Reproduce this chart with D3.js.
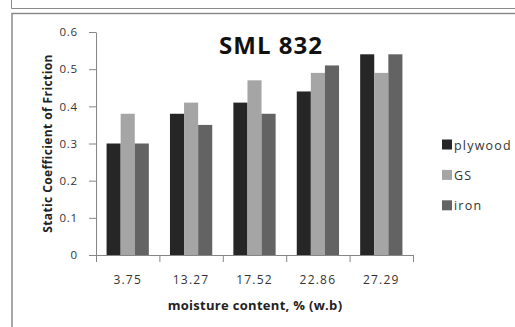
<!DOCTYPE html>
<html>
<head>
<meta charset="utf-8">
<script src="https://cdn.jsdelivr.net/npm/d3@7"></script>
<style>
  html, body { margin: 0; padding: 0; background: #fff; }
  svg { display: block; }
  text { font-family: "Open Sans", sans-serif; }
</style>
</head>
<body>
<svg id="chart" width="515" height="327"></svg>
<script>
const categories = ["3.75", "13.27", "17.52", "22.86", "27.29"];
const seriesNames = ["plywood", "GS", "iron"];
const plywood = [0.30, 0.38, 0.41, 0.44, 0.54];
const gs = [0.38, 0.41, 0.47, 0.49, 0.49];
const iron = [0.30, 0.35, 0.38, 0.51, 0.54];
const yTicks = [0, 0.1, 0.2, 0.3, 0.4, 0.5, 0.6];

const colors = ["#262626", "#a5a5a5", "#636363"];
const series = [plywood, gs, iron];

const svg = d3.select("#chart");
const axisColor = "#868686";

// Frame lines (bottom of panel above + chart box).
svg.append("path")
  .attr("d", "M11.5,0V8.5H515")
  .attr("fill", "none").attr("stroke", "#8a8a8a");
svg.append("path")
  .attr("d", "M12,327V13.5H515")
  .attr("fill", "none").attr("stroke", "#8a8a8a").attr("stroke-width", 1.5);

const plot = {left: 96, right: 413, top: 32, bottom: 255};

// Excel-style: 3 bars per category, gap 150% of a bar
const xBand = d3.scaleBand().domain(categories).range([plot.left, plot.right]);
const groupW = xBand.bandwidth() * 3 / 4.5;
const x1 = d3.scaleBand().domain(seriesNames).range([0, groupW]);

const y = d3.scaleLinear().domain([0, 0.6]).range([plot.bottom, plot.top]);

// Bars
categories.forEach((c, i) => {
  const gx = xBand(c) + (xBand.bandwidth() - groupW) / 2;
  seriesNames.forEach((s, j) => {
    svg.append("rect")
      .attr("x", gx + x1(s))
      .attr("y", y(series[j][i]))
      .attr("width", x1.bandwidth())
      .attr("height", y(0) - y(series[j][i]))
      .attr("fill", colors[j]);
  });
});

// Y axis
const yAxis = d3.axisLeft(y)
  .tickValues(yTicks)
  .tickFormat((d) => d === 0 ? "0" : d3.format(".1f")(d))
  .tickSizeInner(7)
  .tickSizeOuter(0)
  .tickPadding(11);
const gY = svg.append("g")
  .attr("transform", `translate(${plot.left},0)`)
  .call(yAxis);
gY.select(".domain").attr("stroke", axisColor);
gY.selectAll(".tick line").attr("stroke", axisColor);
gY.selectAll(".tick text")
  .attr("fill", "#333")
  .style("font-size", "11.5px")
  .style("letter-spacing", "0.8px");

// X axis (ticks at category boundaries)
svg.append("line")
  .attr("x1", plot.left).attr("x2", plot.right)
  .attr("y1", plot.bottom + 0.5).attr("y2", plot.bottom + 0.5)
  .attr("stroke", axisColor);
const boundaries = categories.map((c) => xBand(c)).concat(plot.right);
svg.selectAll(".xtick").data(boundaries).join("line")
  .attr("x1", (d) => d + 0.5).attr("x2", (d) => d + 0.5)
  .attr("y1", plot.bottom).attr("y2", plot.bottom + 7)
  .attr("stroke", axisColor);
svg.selectAll(".xlabel").data(categories).join("text")
  .attr("x", (d) => xBand(d) + xBand.bandwidth() / 2)
  .attr("y", 284)
  .attr("text-anchor", "middle")
  .attr("fill", "#333")
  .style("font-size", "12px")
  .style("letter-spacing", "1.2px")
  .text((d) => d);

// Axis titles
svg.append("text")
  .attr("x", 255)
  .attr("y", 310)
  .attr("text-anchor", "middle")
  .attr("fill", "#222")
  .style("font-size", "13px")
  .style("font-weight", "bold")
  .style("letter-spacing", "0.3px")
  .text("moisture content, % (w.b)");
svg.append("text")
  .attr("transform", `translate(52,${(plot.top + plot.bottom) / 2}) rotate(-90)`)
  .attr("text-anchor", "middle")
  .attr("fill", "#222")
  .style("font-size", "12px")
  .style("font-weight", "bold")
  .style("letter-spacing", "0.4px")
  .text("Static Coefficient of Friction");

// Title
svg.append("text")
  .attr("x", 271)
  .attr("y", 54)
  .attr("text-anchor", "middle")
  .attr("fill", "#111")
  .style("font-size", "24px")
  .style("font-weight", "bold")
  .style("letter-spacing", "1px")
  .text("SML 832");

// Legend
const legend = svg.append("g").attr("transform", "translate(442,139.5)");
seriesNames.forEach((s, j) => {
  const g = legend.append("g").attr("transform", `translate(0,${j * 30.4})`);
  g.append("rect").attr("width", 10).attr("height", 10).attr("fill", colors[j]);
  g.append("text")
    .attr("x", 12)
    .attr("y", 10)
    .attr("fill", "#333")
    .style("font-size", "12.5px")
    .style("letter-spacing", "1.2px")
    .text(s);
});
</script>
</body>
</html>
